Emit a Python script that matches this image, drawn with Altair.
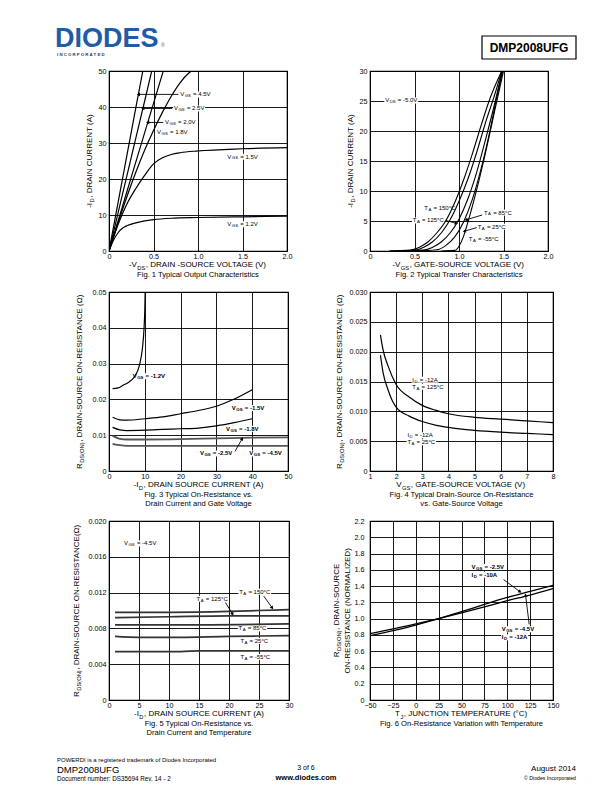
import math
import re
import altair as alt
import pandas as pd

FONT = "Liberation Sans"
BLUE = "#1F5CA8"

# Text markup: "_{...}" marks a subscript.

# ---------------- Fig. 1 : Typical Output Characteristics ----------------
F1_NAMES = ["4.5V", "2.5V", "2.0V", "1.8V", "1.5V", "1.2V"]
F1_VDS = [
    [0, 0.1, 0.2, 0.3, 0.38],
    [0, 0.1, 0.2, 0.3, 0.4, 0.48],
    [0, 0.1, 0.2, 0.3, 0.4, 0.5, 0.61],
    [0, 0.1, 0.2, 0.3, 0.4, 0.5, 0.6, 0.7, 0.8, 0.9, 1.0],
    [0, 0.05, 0.1, 0.15, 0.2, 0.3, 0.4, 0.5, 0.6, 0.7, 0.8, 1.0, 1.5, 2.0],
    [0, 0.05, 0.1, 0.15, 0.2, 0.3, 0.5, 0.7, 1.0, 1.5, 2.0],
]
F1_ID = [
    [0, 13.2, 26.4, 39.6, 50],
    [0, 10.4, 20.8, 31.2, 41.6, 50],
    [0, 8.2, 16.4, 24.6, 32.8, 41, 50],
    [0, 7.7, 15, 21.8, 28, 33.5, 38.5, 43, 46.8, 49.5, 51],
    [0, 3.7, 7.2, 10.3, 13, 17.3, 21, 24.2, 25.9, 26.8, 27.3, 27.8, 28.4, 28.7],
    [0, 3, 5, 6.3, 7, 7.8, 8.7, 9.1, 9.3, 9.5, 9.7],
]
F1_XTICKS = [0, 0.5, 1.0, 1.5, 2.0]
F1_YTICKS = [0, 10, 20, 30, 40, 50]
F1_LBL_T = ["V_{GS} = 4.5V", "V_{GS} = 2.5V", "V_{GS} = 2.0V", "V_{GS} = 1.8V", "V_{GS} = 1.5V", "V_{GS} = 1.2V"]
F1_LBL_X = [0.80, 0.73, 0.63, 0.54, 1.33, 1.33]
F1_LBL_Y = [43.5, 39.6, 35.7, 33.0, 26.2, 7.4]
F1_ARR = [(0.78, 43.5, 0.33, 43.5), (0.71, 39.6, 0.38, 39.6), (0.61, 35.7, 0.435, 35.7)]

# ---------------- Fig. 2 : Typical Transfer Characteristics ----------------
F2_NAMES = ["150C", "125C", "85C", "25C", "-55C"]
F2_VGS = [
    [0.22, 0.45, 0.55, 0.65, 0.75, 0.85, 0.95, 1.05, 1.15, 1.25, 1.35, 1.48],
    [0.22, 0.5, 0.6, 0.7, 0.8, 0.9, 1.0, 1.1, 1.2, 1.3, 1.4, 1.48],
    [0.3, 0.6, 0.7, 0.8, 0.9, 1.0, 1.1, 1.2, 1.3, 1.4, 1.485],
    [0.5, 0.75, 0.85, 0.95, 1.05, 1.15, 1.25, 1.35, 1.42, 1.49],
    [0.8, 0.95, 1.0, 1.05, 1.1, 1.2, 1.3, 1.4, 1.5],
]
F2_ID = [
    [0, 0.15, 0.6, 1.5, 3, 5, 8, 11.8, 16.2, 21, 25.5, 30],
    [0, 0.1, 0.6, 1.5, 3, 5.2, 8.3, 12, 16.5, 21.5, 26, 30],
    [0, 0.15, 0.6, 1.5, 3, 5.3, 8.7, 13.2, 18.7, 24.5, 30],
    [0, 0.2, 0.9, 2.3, 4.8, 8.6, 13.8, 20.2, 25.3, 30],
    [0, 0.1, 0.8, 2.4, 4.8, 10.3, 16.5, 23.3, 30],
]
F2_XTICKS = [0, 0.5, 1.0, 1.5, 2.0]
F2_YTICKS = [0, 5, 10, 15, 20, 25, 30]
F2_LBL_T = ["V_{DS} = -5.0V", "T_{A} = 150°C", "T_{A} = 125°C", "T_{A} = 85°C", "T_{A} = 25°C", "T_{A} = -55°C"]
F2_LBL_X = [0.17, 0.61, 0.48, 1.28, 1.21, 1.11]
F2_LBL_Y = [25.1, 7.2, 5.1, 6.4, 4.05, 1.95]
F2_ARR = [(0.85, 5.1, 0.97, 4.6), (1.26, 6.0, 1.08, 5.2), (1.2, 3.9, 1.06, 3.3)]

# ---------------- Fig. 3 : On-Resistance vs Drain Current and Gate Voltage ----------------
F3_NAMES = ["-1.2V", "-1.5V", "-1.8V", "-2.5V", "-4.5V"]
F3_ID = [
    [1, 2.5, 4, 5.5, 7, 8.5, 9.3, 9.8, 10, 10.1],
    [1, 3, 5, 10, 15, 20, 25, 30, 35, 40],
    [1, 3, 5, 10, 15, 20, 25, 30, 35, 40],
    [1, 3, 5, 10, 20, 30, 40, 50],
    [1, 3, 5, 10, 50],
]
F3_R = [
    [0.023, 0.0232, 0.024, 0.0248, 0.0262, 0.0295, 0.034, 0.040, 0.045, 0.050],
    [0.0150, 0.0143, 0.0142, 0.0146, 0.0151, 0.0160, 0.0169, 0.0181, 0.0201, 0.0227],
    [0.0122, 0.0115, 0.0113, 0.0114, 0.0116, 0.0118, 0.0120, 0.0126, 0.0135, 0.0146],
    [0.0098, 0.0090, 0.0088, 0.0088, 0.0089, 0.0091, 0.0093, 0.0094],
    [0.0076, 0.0072, 0.0070, 0.0070, 0.0070],
]
F3_XTICKS = [0, 10, 20, 30, 40, 50]
F3_YTICKS = [0, 0.01, 0.02, 0.03, 0.04, 0.05]
F3_LBL_T = ["V_{GS} = -1.2V", "V_{GS} = -1.5V", "V_{GS} = -1.8V", "V_{GS} = -2.5V", "V_{GS} = -4.5V"]
F3_LBL_X = [6.6, 34.3, 32.7, 25.4, 39.2]
F3_LBL_Y = [0.0265, 0.0176, 0.0118, 0.0049, 0.0049]
F3_ARR = [(35.2, 0.0055, 37.2, 0.0090)]

# ---------------- Fig. 4 : On-Resistance vs Gate-Source Voltage ----------------
F4_NAMES = ["125C", "25C"]
F4_VGS = [
    [1.4, 1.5, 1.7, 2.0, 2.5, 3.0, 3.5, 4.0, 5.0, 6.0, 7.0, 8.0],
    [1.4, 1.5, 1.7, 1.85, 2.0, 2.5, 3.0, 3.5, 4.0, 5.0, 6.0, 7.0, 8.0],
]
F4_R = [
    [0.0228, 0.0203, 0.0175, 0.0145, 0.0124, 0.0110, 0.0102, 0.0096, 0.0090, 0.0087, 0.0084, 0.0081],
    [0.0194, 0.0165, 0.0135, 0.0118, 0.0107, 0.0092, 0.0083, 0.0077, 0.0073, 0.0068, 0.0065, 0.0063, 0.0061],
]
F4_XTICKS = [1, 2, 3, 4, 5, 6, 7, 8]
F4_YTICKS = [0, 0.005, 0.010, 0.015, 0.020, 0.025, 0.030]
F4_LBL_T = ["I_{D} = -12A", "T_{A} = 125°C", "I_{D} = -12A", "T_{A} = 25°C"]
F4_LBL_X = [2.62, 2.62, 2.43, 2.43]
F4_LBL_Y = [0.0153, 0.0141, 0.0060, 0.0048]

# ---------------- Fig. 5 : On-Resistance vs Drain Current and Temperature ----------------
F5_NAMES = ["150C", "125C", "85C", "25C", "-55C"]
F5_ID = [
    [1, 10, 20, 25, 30],
    [1, 10, 20, 30],
    [1, 15, 30],
    [1, 5, 10, 20, 30],
    [1, 12, 15, 30],
]
F5_R = [
    [0.0098, 0.0098, 0.0099, 0.0100, 0.0101],
    [0.0092, 0.0093, 0.0094, 0.0094],
    [0.0084, 0.0084, 0.0085],
    [0.0071, 0.0070, 0.0070, 0.0071, 0.0072],
    [0.0054, 0.0054, 0.0055, 0.0055],
]
F5_XTICKS = [0, 5, 10, 15, 20, 25, 30]
F5_YTICKS = [0, 0.004, 0.008, 0.012, 0.016, 0.020]
F5_LBL_T = ["V_{GS} = -4.5V", "T_{A} = 150°C", "T_{A} = 125°C", "T_{A} = 85°C", "T_{A} = 25°C", "T_{A} = -55°C"]
F5_LBL_X = [2.5, 21.7, 14.6, 21.6, 21.9, 21.9]
F5_LBL_Y = [0.0175, 0.0121, 0.0113, 0.0080, 0.0066, 0.0048]
F5_ARR = [(25.8, 0.0116, 27.2, 0.0103), (19.4, 0.0109, 20.6, 0.0096)]

# ---------------- Fig. 6 : On-Resistance Variation with Temperature ----------------
F6_NAMES = ["-2.5V", "-4.5V"]
F6_TJ = [
    [-50, 0, 25, 50, 75, 100, 125, 150],
    [-50, 0, 25, 50, 75, 100, 125, 150],
]
F6_R = [
    [0.79, 0.92, 1.0, 1.085, 1.175, 1.26, 1.335, 1.41],
    [0.815, 0.935, 1.0, 1.07, 1.145, 1.22, 1.29, 1.37],
]
F6_XTICKS = [-50, -25, 0, 25, 50, 75, 100, 125, 150]
F6_YTICKS = [0, 0.2, 0.4, 0.6, 0.8, 1.0, 1.2, 1.4, 1.6, 1.8, 2.0, 2.2]
F6_LBL_T = ["V_{GS} = -2.5V", "I_{D} = -10A", "V_{GS} = -4.5V", "I_{D} = -12A"]
F6_LBL_X = [61, 61, 94, 94]
F6_LBL_Y = [1.635, 1.54, 0.87, 0.77]
F6_ARR = [(96, 1.48, 114, 1.33), (124, 0.93, 120, 1.29)]

# ---------------- text metrics (Liberation Sans = Arial metrics) ----------------
_W = {" ": 278, "-": 333, ",": 278, ".": 278, "(": 333, ")": 333, "=": 584, "°": 400,
      "Ω": 768, "A": 667, "B": 667, "C": 722, "D": 722, "E": 667, "F": 611, "G": 778,
      "H": 722, "I": 278, "J": 500, "K": 667, "L": 556, "M": 833, "N": 722, "O": 778,
      "P": 667, "Q": 778, "R": 722, "S": 667, "T": 611, "U": 722, "V": 667, "W": 944,
      "X": 667, "Y": 667, "Z": 611}
GAP = 0.5   # tiny gap between a text and its subscript


def text_width(s, size, bold=False):
    tot = 0
    for ch in s:
        wv = _W.get(ch, 556)
        if bold and ch == "A":
            wv = 722
        tot += wv
    return tot / 1000.0 * size


def parse(s):
    parts, pos = [], 0
    for m in re.finditer(r"_\{([^}]*)\}", s):
        if m.start() > pos:
            parts.append((s[pos:m.start()], False))
        parts.append((m.group(1), True))
        pos = m.end()
    if pos < len(s):
        parts.append((s[pos:], False))
    return parts


def rich(s, size, bold=False):
    segs, off = [], 0.0
    for t, sub in parse(s):
        fs = size * 0.72 if sub else size
        dy = size * 0.3 if sub else 0.0
        lead = len(t) - len(t.lstrip(" "))
        off += text_width(" " * lead, fs, bold)
        t2 = t.lstrip(" ")
        if t2:
            segs.append((t2, fs, off, dy))
        off += text_width(t2, fs, bold) + GAP
    return segs, off - GAP


def curves_df(xs_list, ys_list, names, colors, widths):
    rows = []
    for i, (xs, ys) in enumerate(zip(xs_list, ys_list)):
        for x, y in zip(xs, ys):
            rows.append({"x": x, "y": y, "s": names[i], "c": colors[i], "w": widths[i], "o": len(rows)})
    return pd.DataFrame(rows)


def lab_expr(fmt):
    return f"datum.value == 0 ? '0' : format(datum.value, '{fmt}')"


def deco(text, x, y, size, weight="normal", align="left", color="black", baseline="middle",
         angle=0, dy=0, line_h=None):
    kw = {}
    if line_h is not None:
        kw["lineHeight"] = line_h
    return alt.Chart(pd.DataFrame({"t": [text]})).mark_text(
        font=FONT, fontSize=size, fontWeight=weight, align=align, baseline=baseline,
        color=color, angle=angle, dy=dy, lineBreak="\n", **kw).encode(
        x=alt.value(x), y=alt.value(y), text="t:N")


def anchor(x, y):
    # invisible zero-length rule: pins the layout bounds of its panel
    return alt.Chart(pd.DataFrame({"a": [0]})).mark_rule(strokeOpacity=0, strokeWidth=1).encode(
        x=alt.value(x), x2=alt.value(x), y=alt.value(y), y2=alt.value(y))


def frame(L, T, R, B):
    return [anchor(L + 0.5, T + 0.5), anchor(R - 0.5, B - 0.5)]


TS = 8.0    # axis title size
AS = 6.0    # annotation size
XT_Y = 14.2  # x-title centre below the plot


def panel(df, xdom, ydom, xticks, yticks, xfmt, yfmt, w, h, xtitle, ytitles, ytx,
          lbl_t, lbl_x, lbl_y, arrows, caption, cap_y, box, bold=False, ypad=3):
    xs = alt.Scale(domain=xdom, nice=False, zero=False)
    ys = alt.Scale(domain=ydom, nice=False, zero=False)
    sx = w / (xdom[1] - xdom[0])
    sy = h / (ydom[1] - ydom[0])
    xkw = dict(values=xticks, title=None, labelPadding=1)
    if xfmt:
        xkw["labelExpr"] = lab_expr(xfmt)
    ykw = dict(values=yticks, title=None, labelPadding=ypad)
    if yfmt:
        ykw["labelExpr"] = lab_expr(yfmt)
    xax = alt.Axis(**xkw)
    yax = alt.Axis(**ykw)

    def X(f):
        return alt.X(f, scale=xs, axis=xax)

    def Y(f):
        return alt.Y(f, scale=ys, axis=yax)

    wt = "bold" if bold else "normal"
    # white boxes behind the annotations (they interrupt the grid in the original)
    widths = [rich(t, AS, bold)[1] for t in lbl_t]
    bdf = pd.DataFrame({
        "x": [lx - 0.8 / sx for lx in lbl_x],
        "x2": [lx + (wd + 0.8) / sx for lx, wd in zip(lbl_x, widths)],
        "y": [ly - 3.0 / sy for ly in lbl_y],
        "y2": [ly + 3.0 / sy for ly in lbl_y],
    })
    layers = [alt.Chart(bdf).mark_rect(color="white", opacity=1).encode(
        x=X("x:Q"), y=Y("y:Q"), x2="x2:Q", y2="y2:Q")]
    layers.append(alt.Chart(df).mark_line(interpolate="monotone", clip=True).encode(
        x=X("x:Q"), y=Y("y:Q"),
        detail="s:N",
        order="o:Q",
        color=alt.Color("c:N", scale=None),
        strokeWidth=alt.StrokeWidth("w:Q", scale=None),
    ))
    for t, lx, ly in zip(lbl_t, lbl_x, lbl_y):
        segs, _ = rich(t, AS, bold)
        for seg, fs, off, dy in segs:
            d = pd.DataFrame({"x": [lx], "y": [ly], "t": [seg]})
            layers.append(alt.Chart(d).mark_text(
                font=FONT, fontSize=fs, fontWeight=wt, align="left", baseline="middle",
                color="black", dx=off, dy=dy).encode(x=X("x:Q"), y=Y("y:Q"), text="t:N"))
    if arrows:
        adf = pd.DataFrame({
            "x": [a[0] for a in arrows], "y": [a[1] for a in arrows],
            "x2": [a[2] for a in arrows], "y2": [a[3] for a in arrows],
            "ang": [math.degrees(math.atan2((a[2] - a[0]) * sx, (a[3] - a[1]) * sy)) % 360
                    for a in arrows],
        })
        layers.append(alt.Chart(adf).mark_rule(color="black", strokeWidth=0.9).encode(
            x=X("x:Q"), y=Y("y:Q"), x2="x2:Q", y2="y2:Q"))
        layers.append(alt.Chart(adf).mark_point(shape="triangle-up", filled=True, size=14,
                                                color="black", opacity=1).encode(
            x=X("x2:Q"), y=Y("y2:Q"), angle=alt.Angle("ang:Q", scale=None)))
    # x-axis title with subscripts
    segs, tot = rich(xtitle, TS)
    x0 = w / 2 - tot / 2
    for seg, fs, off, dy in segs:
        layers.append(deco(seg, x0 + off, h + XT_Y + dy, fs))
    # y-axis title(s), rotated, with subscripts
    n = len(ytitles)
    for i, line in enumerate(ytitles):
        lx = ytx + (i - (n - 1) / 2) * 11
        segs, tot = rich(line, TS)
        for seg, fs, off, dy in segs:
            layers.append(deco(seg, lx, h / 2 + tot / 2 - off, fs, angle=270, dy=dy))
    # caption
    layers.append(deco(caption, w / 2, h + cap_y, 7.6, align="center", baseline="top", line_h=9))
    layers.extend(frame(*box))
    return alt.layer(*layers).properties(
        width=w, height=h, view=alt.ViewBackground(stroke="black", strokeWidth=1.2))


K = "black"
G = "#555555"

# Layout: column-1 plots start at page x=109, column-2 plots at page x=368.
# Row plot tops at page y = 70, 289, 516.
fig1 = panel(curves_df(F1_VDS, F1_ID, F1_NAMES, [K] * 6, [1.2] * 6),
             [0, 2], [0, 50], F1_XTICKS, F1_YTICKS, ".1f", None, 178, 180,
             "-V_{DS}, DRAIN -SOURCE VOLTAGE (V)", ["-I_{D}, DRAIN CURRENT (A)"], -19,
             F1_LBL_T, F1_LBL_X, F1_LBL_Y, F1_ARR,
             "Fig. 1 Typical Output Characteristics", 19.6, (-60, -8, 213, 212))

fig2 = panel(curves_df(F2_VGS, F2_ID, F2_NAMES, [K] * 5, [1.1] * 5),
             [0, 2], [0, 30], F2_XTICKS, F2_YTICKS, ".1f", None, 178, 180,
             "-V_{GS}, GATE-SOURCE VOLTAGE (V)", ["-I_{D}, DRAIN CURRENT (A)"], -19.5,
             F2_LBL_T, F2_LBL_X, F2_LBL_Y, F2_ARR,
             "Fig. 2 Typical Transfer Characteristics", 19.6, (-46, -8, 212, 212))

fig3 = panel(curves_df(F3_ID, F3_R, F3_NAMES, [K, K, K, G, G], [1.2, 1.2, 1.2, 1.8, 1.8]),
             [0, 50], [0, 0.05], F3_XTICKS, F3_YTICKS, None, ".2f", 179, 179,
             "-I_{D}, DRAIN SOURCE CURRENT (A)",
             ["R_{DS(ON)}, DRAIN-SOURCE ON-RESISTANCE (Ω)"], -29,
             F3_LBL_T, F3_LBL_X, F3_LBL_Y, F3_ARR,
             "Fig. 3 Typical On-Resistance vs.\nDrain Current and Gate Voltage", 20,
             (-60, -7, 213, 221), bold=True)

fig4 = panel(curves_df(F4_VGS, F4_R, F4_NAMES, [K, K], [1.2, 1.2]),
             [1, 8], [0, 0.03], F4_XTICKS, F4_YTICKS, None, ".3f", 183, 179,
             "V_{GS}, GATE-SOURCE VOLTAGE (V)",
             ["R_{DS(ON)}, DRAIN-SOURCE ON-RESISTANCE (Ω)"], -30,
             F4_LBL_T, F4_LBL_X, F4_LBL_Y, [],
             "Fig. 4 Typical Drain-Source On-Resistance\nvs. Gate-Source Voltage", 20,
             (-46, -7, 212, 221))

fig5 = panel(curves_df(F5_ID, F5_R, F5_NAMES, ["#333333"] * 5, [1.7] * 5),
             [0, 30], [0, 0.02], F5_XTICKS, F5_YTICKS, None, ".3f", 180, 179,
             "-I_{D}, DRAIN SOURCE CURRENT (A)",
             ["R_{DS(ON)}, DRAIN-SOURCE ON-RESISTANCE(Ω)"], -32,
             F5_LBL_T, F5_LBL_X, F5_LBL_Y, F5_ARR,
             "Fig. 5 Typical On-Resistance vs.\nDrain Current and Temperature", 20,
             (-60, -6, 213, 224))

fig6 = panel(curves_df(F6_TJ, F6_R, F6_NAMES, [K, K], [1.3, 1.3]),
             [-50, 150], [0, 2.2], F6_XTICKS, F6_YTICKS, None, ".1f", 183, 179,
             "T_{J}, JUNCTION TEMPERATURE (°C)",
             ["R_{DS(ON)}, DRAIN-SOURCE", "ON-RESISTANCE (NORMALIZED)"], -28,
             F6_LBL_T, F6_LBL_X, F6_LBL_Y, F6_ARR,
             "Fig. 6 On-Resistance Variation with Temperature", 20,
             (-46, -6, 212, 224), bold=True, ypad=6)

NOVIEW = alt.ViewBackground(strokeOpacity=0)

# header (origin = page (109, 8))
header = alt.layer(
    *frame(-101, 0, 471, 54),
    deco("DIODES", -54, 38.5, 27, "bold", "left", BLUE, "alphabetic"),
    deco("®", 52, 38.5, 5, "normal", "left", BLUE, "alphabetic"),
    deco("I    N    C    O    R    P    O    R    A    T    E    D", -52, 47, 4.3, "bold", "left", "#24406E"),
    alt.Chart(pd.DataFrame({"a": [0]})).mark_rect(filled=False, stroke="black", strokeWidth=1.2).encode(
        x=alt.value(373), x2=alt.value(467), y=alt.value(28), y2=alt.value(51)),
    deco("DMP2008UFG", 420, 39.5, 12, "bold", "center"),
).properties(width=1, height=1, view=NOVIEW)

# footer (origin = page (109, 740))
footer = alt.layer(
    *frame(-101, 0, 471, 44),
    deco("POWERDI is a registered trademark of Diodes Incorporated", -52, 14, 6),
    deco("DMP2008UFG", -52, 23.5, 9.5),
    deco("Document number: DS35694  Rev. 14 - 2", -52, 33, 6.3),
    deco("3 of 6", 197, 22, 7, "normal", "center"),
    deco("www.diodes.com", 197, 32, 7.5, "bold", "center"),
    deco("August 2014", 467, 23, 8, "normal", "right"),
    deco("© Diodes Incorporated", 467, 32, 5.2, "normal", "right"),
).properties(width=1, height=1, view=NOVIEW)

grid = alt.concat(fig1, fig2, fig3, fig4, fig5, fig6, columns=2, spacing=0)

chart = alt.vconcat(header, grid, footer, spacing=0).properties(
    padding=0, background="white"
).configure(font=FONT).configure_axis(
    labelFont=FONT, labelFontSize=7.2, labelColor="black",
    labelFlush=False, labelOverlap=False, labelBound=False,
    grid=True, gridColor="black", gridWidth=0.9, gridOpacity=1,
    domain=False, ticks=False,
)

chart.save("out.html", embed_options={"renderer": "svg", "actions": False})
